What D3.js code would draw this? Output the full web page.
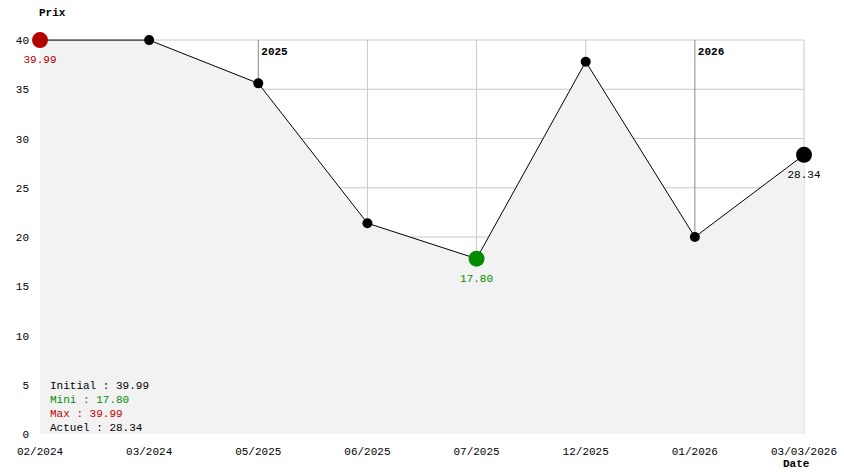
<!DOCTYPE html>
<html><head><meta charset="utf-8">
<script src="https://cdn.jsdelivr.net/npm/d3@7"></script>
<style>body{margin:0;background:#fff}text{font-family:"Liberation Mono","DejaVu Sans Mono",monospace;font-size:11px}</style>
</head><body><svg id="svg" width="844" height="474"></svg>
<script>
const dates = ["02/2024","03/2024","05/2025","06/2025","07/2025","12/2025","01/2026","03/03/2026"];
const prices = [39.99, 39.99, 35.6, 21.4, 17.80, 37.8, 20.0, 28.34];
const yearMarks = [{i: 2, label: "2025"}, {i: 6, label: "2026"}];
const yTicks = [0,5,10,15,20,25,30,35,40];

const svg = d3.select("#svg");
const x = d3.scalePoint().domain(d3.range(dates.length)).range([40, 804]);
const y = d3.scaleLinear().domain([0, 40]).range([434, 40]);

// grid (fill is drawn over it)
svg.append("g").selectAll("line").data(yTicks.slice(1)).join("line")
  .attr("x1", 40).attr("x2", 804).attr("y1", d => y(d)).attr("y2", d => y(d))
  .attr("stroke", "#c8c8c8");
svg.append("g").selectAll("line").data(d3.range(1, dates.length)).join("line")
  .attr("x1", d => x(d)).attr("x2", d => x(d)).attr("y1", y(40)).attr("y2", y(0))
  .attr("stroke", d => yearMarks.some(m => m.i === d) ? "#888" : "#c8c8c8");

// fill
svg.append("path")
  .datum(prices)
  .attr("fill", "#f2f2f2")
  .attr("d", d3.area().x((d, i) => x(i)).y0(y(0)).y1(d => y(d)));

yearMarks.forEach(m => {
  svg.append("text").attr("x", x(m.i) + 3).attr("y", 55)
    .attr("font-weight", "bold").text(m.label);
});

// y labels
svg.append("g").selectAll("text").data(yTicks).join("text")
  .attr("x", 29).attr("y", d => y(d) + 4).attr("text-anchor", "end").text(d => d);
// x labels
svg.append("g").selectAll("text").data(dates).join("text")
  .attr("x", (d, i) => x(i)).attr("y", 455).attr("text-anchor", "middle").text(d => d);

svg.append("text").attr("x", 39).attr("y", 16).attr("font-weight", "bold").text("Prix");
svg.append("text").attr("x", 783).attr("y", 467).attr("font-weight", "bold").text("Date");

// line
svg.append("path").datum(prices).attr("fill", "none").attr("stroke", "#000")
  .attr("d", d3.line().x((d, i) => x(i)).y(d => y(d)));

const last = prices.length - 1;
const minI = prices.indexOf(d3.min(prices));
svg.append("g").selectAll("circle").data(prices).join("circle")
  .attr("cx", (d, i) => x(i)).attr("cy", d => y(d))
  .attr("r", (d, i) => i === 0 || i === last || i === minI ? 8 : 5)
  .attr("fill", (d, i) => i === 0 ? "#b30000" : i === minI ? "#008c00" : "#000");

svg.append("text").attr("x", x(0)).attr("y", y(prices[0]) + 23).attr("text-anchor", "middle")
  .attr("fill", "#b30000").text(prices[0].toFixed(2));
svg.append("text").attr("x", x(minI)).attr("y", y(prices[minI]) + 23).attr("text-anchor", "middle")
  .attr("fill", "#008c00").text(prices[minI].toFixed(2));
svg.append("text").attr("x", x(last)).attr("y", y(prices[last]) + 23).attr("text-anchor", "middle")
  .attr("fill", "#000").text(prices[last].toFixed(2));

const stats = [
  ["Initial : " + prices[0].toFixed(2), "#000"],
  ["Mini : " + prices[minI].toFixed(2), "#008c00"],
  ["Max : " + d3.max(prices).toFixed(2), "#c00000"],
  ["Actuel : " + prices[last].toFixed(2), "#000"]
];
svg.append("g").selectAll("text").data(stats).join("text")
  .attr("x", 50).attr("y", (d, i) => 389 + i * 14).attr("fill", d => d[1]).text(d => d[0]);
</script></body></html>
